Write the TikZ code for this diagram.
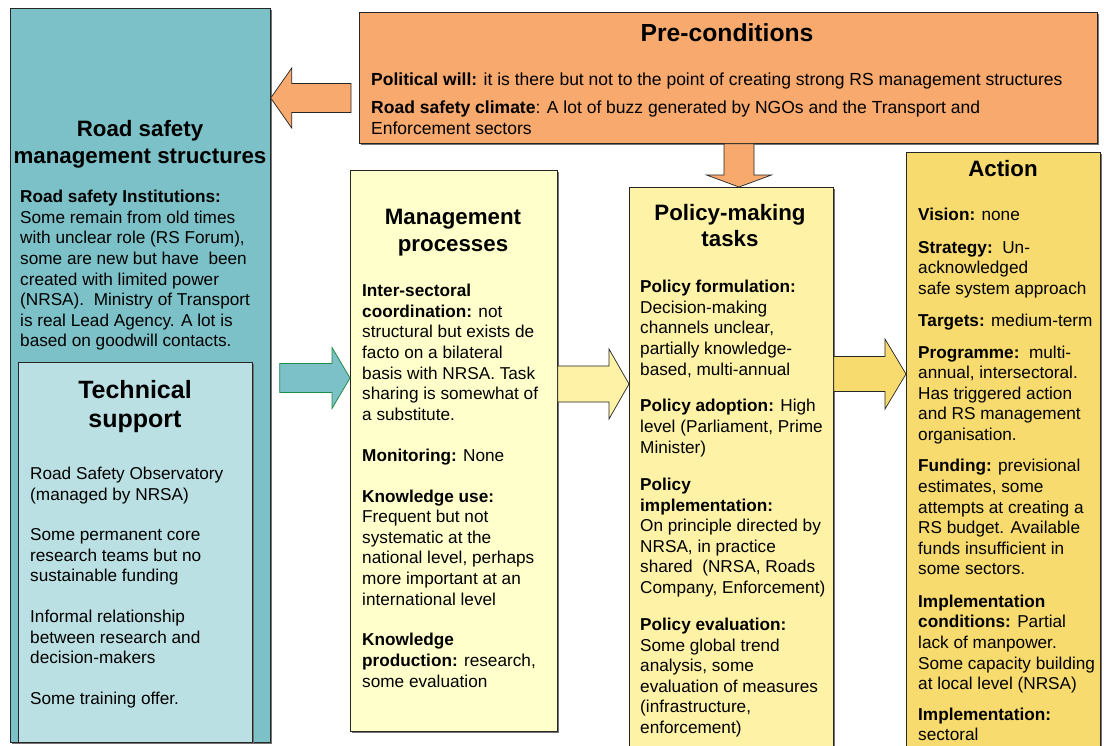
\documentclass[tikz,border=0pt]{standalone}
\usepackage{fontspec}
\setmainfont{Liberation Sans}
\usetikzlibrary{calc,shadows}
\definecolor{rsteal}{HTML}{7CC1C7}
\definecolor{techteal}{HTML}{BBE0E3}
\definecolor{preorange}{HTML}{F7A96E}
\definecolor{mgmtyellow}{HTML}{FFFFCC}
\definecolor{polyellow}{HTML}{FEF2A6}
\definecolor{actyellow}{HTML}{F7DB6E}
\definecolor{arrgreen}{HTML}{228B4A}
\newcommand\blockH[6]{% style, tail, tip, shaft half, head half, head length (signed)
  \draw[#1] let \p1=(#2), \p2=(#3) in
   (\x1,{\y2+#4pt}) -- ({\x2-#6pt},{\y2+#4pt}) -- ({\x2-#6pt},{\y2+#5pt}) -- (\x2,\y2)
   -- ({\x2-#6pt},{\y2-#5pt}) -- ({\x2-#6pt},{\y2-#4pt}) -- (\x1,{\y2-#4pt}) -- cycle;}
\newcommand\blockV[6]{% style, tail, tip, shaft half, head half, head length
  \draw[#1] let \p1=(#2), \p2=(#3) in
   ({\x2-#4pt},\y1) -- ({\x2-#4pt},{\y2+#6pt}) -- ({\x2-#5pt},{\y2+#6pt}) -- (\x2,\y2)
   -- ({\x2+#5pt},{\y2+#6pt}) -- ({\x2+#4pt},{\y2+#6pt}) -- ({\x2+#4pt},\y1) -- cycle;}
\tikzset{
  box/.style={draw=black!85, line width=0.7pt, inner sep=0pt, anchor=north west,
    drop shadow={shadow xshift=1.5pt, shadow yshift=-1.5pt, fill=black!55, opacity=1}},
  body/.style={font=\fontsize{17.2}{20.6}\selectfont, align=left, inner sep=0pt, anchor=north west},
  ttl/.style={font=\fontsize{22.3}{27}\selectfont\bfseries, align=center, inner sep=0pt, anchor=north},
  arr/.style={draw=black!85, line width=0.7pt},
}
\begin{document}
\begin{tikzpicture}[x=1pt,y=-1pt]
\useasboundingbox (0,0) rectangle (1104,745);
\clip (0,0) rectangle (1104,745);
\fill[white] (0,0) rectangle (1104,745);

% boxes
\node[box, fill=rsteal, minimum width=260pt, minimum height=734pt] (rs) at (10,8) {};
\node[box, fill=techteal, minimum width=234pt, minimum height=380pt] (tech) at (18,362) {};
\node[box, fill=preorange, minimum width=738pt, minimum height=131pt] (pre) at (359,12) {};
\node[box, fill=mgmtyellow, minimum width=207pt, minimum height=561pt] (mgmt) at (350,170) {};
\node[box, fill=polyellow, minimum width=204pt, minimum height=570pt] (pol) at (629,187) {};
\node[box, fill=actyellow, minimum width=194pt, minimum height=600pt] (act) at (906,152) {};

% connector coordinates
\coordinate (a1y) at (0,98);
\coordinate (a2x) at (739,0);
\coordinate (a3y) at (0,378);
\coordinate (a4y) at (0,384);
\coordinate (a5y) at (0,374);
\coordinate (a1tail) at ($(pre.west |- a1y)+(-8,0)$);
\coordinate (a3tail) at ($(rs.east |- a3y)+(9,0)$);

% block arrows
\blockH{arr, fill=preorange}{a1tail}{rs.east |- a1y}{14.5}{30}{-21}
\blockV{arr, fill=preorange}{pre.south -| a2x}{pol.north -| a2x}{15}{32.5}{12}
\blockH{draw=arrgreen, line width=0.8pt, fill=rsteal}{a3tail}{mgmt.west |- a3y}{14.5}{30.5}{18}
\blockH{arr, fill=polyellow}{mgmt.east |- a4y}{pol.west |- a4y}{18}{35}{20}
\blockH{arr, fill=actyellow}{pol.east |- a5y}{act.west |- a5y}{17.5}{35}{21}

% Road safety management structures
\node[ttl] (rsT) at (140,120) {Road safety\\management structures};
\node[body] (rsB) at (20,190) {\textbf{Road safety Institutions:}\\
Some remain from old times\\
with unclear role (RS Forum),\\
some are new but have\ \ been\\
created with limited power\\
(NRSA).\ \ Ministry of Transport\\
is real Lead Agency. A lot is\\
based on goodwill contacts.};

% Technical support
\node[ttl, font=\fontsize{25}{29}\selectfont\bfseries] (techT) at (135,380) {Technical\\support};
\node[body, font=\fontsize{17.2}{20.4}\selectfont] (techB) at (30,467) {Road Safety Observatory\\
(managed by NRSA)\\[20.5pt]
Some permanent core\\
research teams but no\\
sustainable funding\\[20.5pt]
Informal relationship\\
between research and\\
decision-makers\\[20.5pt]
Some training offer.};

% Pre-conditions
\node[ttl, font=\fontsize{24.7}{29}\selectfont\bfseries] (preT) at (727,23) {Pre-conditions};
\node[body, font=\fontsize{17.5}{21}\selectfont] (preB) at (371,73) {\textbf{Political will:} it is there but not to the point of creating strong RS management structures\\[7pt]
\textbf{Road safety climate}: A lot of buzz generated by NGOs and the Transport and\\
Enforcement sectors};

% Management processes
\node[ttl] (mgmtT) at (453,209) {Management\\processes};
\node[body] (mgmtB) at (362,284) {\textbf{Inter-sectoral}\\
\textbf{coordination:} not\\
structural but exists de\\
facto on a bilateral\\
basis with NRSA. Task\\
sharing is somewhat of\\
a substitute.\\[20.3pt]
\textbf{Monitoring:} None\\[20.3pt]
\textbf{Knowledge use:}\\
Frequent but not\\
systematic at the\\
national level, perhaps\\
more important at an\\
international level\\[20.3pt]
\textbf{Knowledge}\\
\textbf{production:} research,\\
some evaluation};

% Policy-making tasks
\node[ttl, font=\fontsize{22.3}{26}\selectfont\bfseries] (polT) at (730,204) {Policy-making\\tasks};
\node[body] (polB) at (640,280) {\textbf{Policy formulation:}\\
Decision-making\\
channels unclear,\\
partially knowledge-\\
based, multi-annual\\[16.3pt]
\textbf{Policy adoption:} High\\
level (Parliament, Prime\\
Minister)\\[16.8pt]
\textbf{Policy}\\
\textbf{implementation:}\\
On principle directed by\\
NRSA, in practice\\
shared\ \ (NRSA, Roads\\
Company, Enforcement)\\[16.3pt]
\textbf{Policy evaluation:}\\
Some global trend\\
analysis, some\\
evaluation of measures\\
(infrastructure,\\
enforcement)};

% Action
\node[ttl] (actT) at (1003,160) {Action};
\node[body] (actB) at (918,208) {\textbf{Vision:} none\\[11.8pt]
\textbf{Strategy:}\ \ Un-\\
acknowledged\\
safe system approach\\[11.8pt]
\textbf{Targets:} medium-term\\[10.8pt]
\textbf{Programme:}\ \ multi-\\
annual, intersectoral.\\
Has triggered action\\
and RS management\\
organisation.\\[10.8pt]
\textbf{Funding:} previsional\\
estimates, some\\
attempts at creating a\\
RS budget. Available\\
funds insufficient in\\
some sectors.\\[11.8pt]
\textbf{Implementation}\\
\textbf{conditions:} Partial\\
lack of manpower.\\
Some capacity building\\
at local level (NRSA)\\[9.8pt]
\textbf{Implementation:}\\
sectoral};
\end{tikzpicture}
\end{document}
